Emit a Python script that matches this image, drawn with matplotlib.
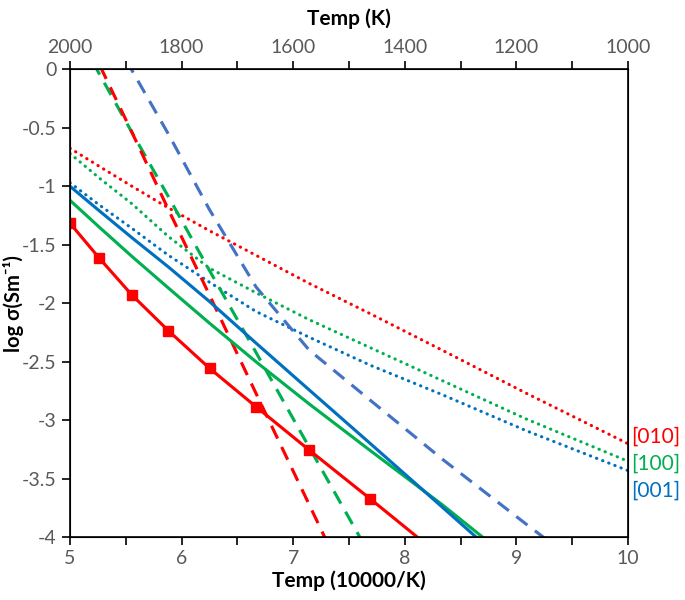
import numpy as np
import matplotlib
matplotlib.use('Agg')
import matplotlib.pyplot as plt
from matplotlib.ticker import MultipleLocator, FuncFormatter

plt.rcParams['font.family'] = ['Lato', 'DejaVu Sans']
plt.rcParams['axes.unicode_minus'] = False

# temperatures (K) the curves are sampled at, plotted as 10000/T
temps = np.array([2000, 1900, 1800, 1700, 1600, 1500, 1400, 1300, 1200, 1100, 1000])
inv_t = 10000 / temps

# log sigma, solid lines
solid_010 = [-1.316, -1.615, -1.93, -2.235, -2.555, -2.884, -3.254, -3.673, -4.17]
solid_100 = [-1.12, -1.35, -1.60, -1.87, -2.17, -2.50, -2.86, -3.26, -3.72, -4.3]
solid_001 = [-1.0, -1.21, -1.44, -1.69, -1.985, -2.34, -2.74, -3.2, -3.74, -4.38]

# dashed lines
dash_010 = [0.57, 0.04, -0.54, -1.2, -1.93, -2.77, -3.72, -4.82]
dash_100 = [0.41, -0.04, -0.54, -1.09, -1.72, -2.42, -3.23, -4.16]
dash_001 = [0.93, 0.49, -0.01, -0.555, -1.2, -1.86, -2.4, -2.83, -3.33, -3.89, -4.55]

# dotted lines
dot_010 = [-0.675, -0.83, -1.0, -1.185, -1.38, -1.59, -1.83, -2.09, -2.4, -2.77, -3.2]
dot_100 = [-0.72, -0.93, -1.15, -1.43, -1.70, -1.91, -2.14, -2.38, -2.66, -2.99, -3.35]
dot_001 = [-0.97, -1.16, -1.36, -1.59, -1.82, -2.07, -2.29, -2.53, -2.78, -3.09, -3.43]

red = '#FF0000'
green = '#00B050'
blue = '#0070C0'
blue2 = '#4472C4'
grey = '#595959'

fig = plt.figure(figsize=(6.85, 6.0), dpi=100)
ax = fig.add_axes([0.1022, 0.1045, 0.8146, 0.78])

dots = (0, (0.1, 2))
dashes = (0, (4.5, 3))
lw = 2.25

ax.plot(inv_t, dot_010, color=red, lw=lw, ls=dots, dash_capstyle='round')
ax.plot(inv_t, dot_100, color=green, lw=lw, ls=dots, dash_capstyle='round')
ax.plot(inv_t, dot_001, color=blue, lw=lw, ls=dots, dash_capstyle='round')

ax.plot(inv_t[:len(dash_001)], dash_001, color=blue2, lw=lw, ls=dashes)
ax.plot(inv_t[:len(dash_100)], dash_100, color=green, lw=lw, ls=dashes)
ax.plot(inv_t[:len(dash_010)], dash_010, color=red, lw=lw, ls=dashes)

ax.plot(inv_t[:len(solid_100)], solid_100, color=green, lw=lw)
ax.plot(inv_t[:len(solid_001)], solid_001, color=blue, lw=lw)
ax.plot(inv_t[:len(solid_010)], solid_010, color=red, lw=lw, marker='s', ms=7.5)

ax.set_xlim(5, 10)
ax.set_ylim(-4, 0)
ax.xaxis.set_major_locator(MultipleLocator(1))
ax.xaxis.set_minor_locator(MultipleLocator(0.5))
ax.yaxis.set_major_locator(MultipleLocator(0.5))
ax.yaxis.set_major_formatter(FuncFormatter(lambda v, p: f"{v:g}"))
ax.tick_params(which='both', direction='out', length=6, width=1.2,
               labelsize=14, labelcolor=grey, top=False, right=False)
for s in ax.spines.values():
  s.set_linewidth(1.2)

ax2 = ax.twiny()
ax2.set_xlim(2000, 1000)
ax2.xaxis.set_major_locator(MultipleLocator(200))
ax2.xaxis.set_minor_locator(MultipleLocator(100))
ax2.tick_params(which='both', direction='out', length=6, width=1.2,
                labelsize=14, labelcolor=grey)

ax.set_xlabel('Temp (10000/K)', fontsize=15, fontweight='bold', labelpad=2)
ax2.set_xlabel('Temp (K)', fontsize=15, fontweight='bold', labelpad=10)
ax.set_ylabel('log σ(Sm⁻¹)', fontsize=14.5, fontweight='bold', va='center')
ax.yaxis.set_label_coords(-0.102, 0.5)

ax.text(10.03, -3.14, '[010]', color=red, fontsize=15, va='center', clip_on=False)
ax.text(10.03, -3.37, '[100]', color=green, fontsize=15, va='center', clip_on=False)
ax.text(10.03, -3.60, '[001]', color=blue, fontsize=15, va='center', clip_on=False)

fig.savefig('out.png', dpi=100)
